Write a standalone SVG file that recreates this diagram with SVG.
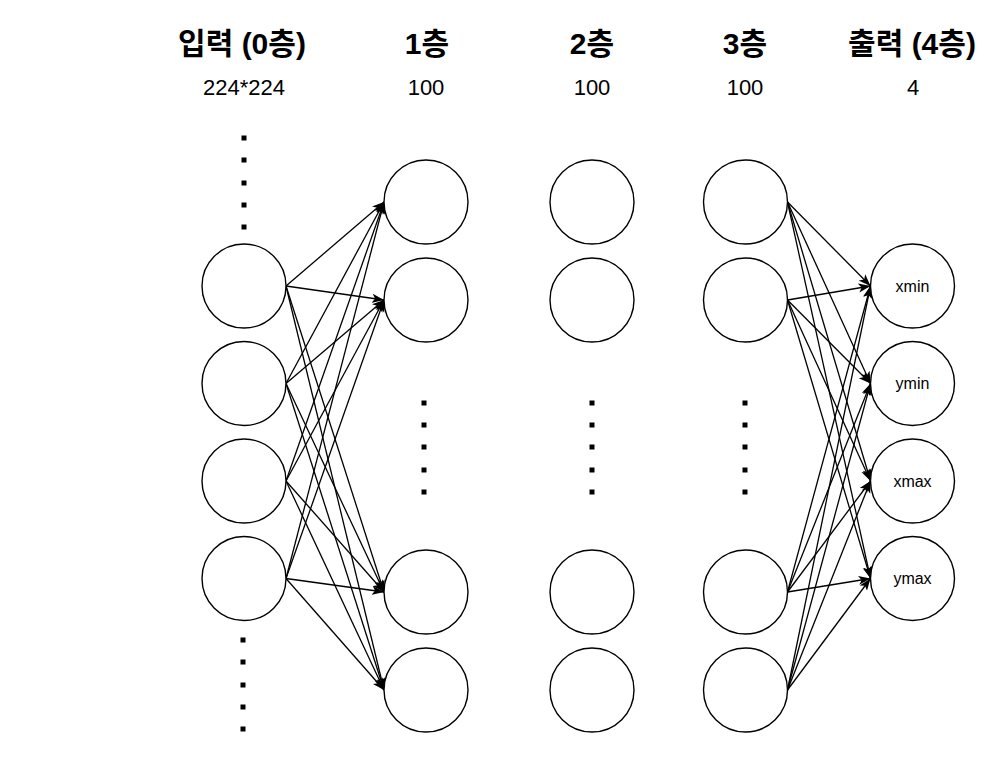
<svg xmlns="http://www.w3.org/2000/svg" width="987" height="767" viewBox="0 0 987 767">
<style>
.node{fill:#fff;stroke:#000;stroke-width:1.4}
.edge{fill:none;stroke:#000;stroke-width:1.3}
.hd{font-family:"Liberation Sans","Noto Sans CJK KR",sans-serif;font-weight:bold;font-size:30px;text-anchor:middle;fill:#000}
.sub{font-family:"Liberation Sans",sans-serif;font-size:22px;text-anchor:middle;fill:#000}
.lbl{font-family:"Liberation Sans",sans-serif;font-size:16px;text-anchor:middle;fill:#000}
.dot{fill:#000}
</style>
<defs>
<marker id="arr" markerUnits="userSpaceOnUse" markerWidth="12" markerHeight="10" refX="12" refY="5" orient="auto">
<path d="M0,0.5 L12,5 L0,9.5 L3,5 Z" fill="#000"/>
</marker>
<rect id="d" x="-2.5" y="-2.5" width="5" height="5"/>
</defs>
<rect width="987" height="767" fill="#fff"/>
<g id="headers">
<text class="hd" x="242" y="54">입력 (0층)</text>
<text class="hd" x="427" y="54">1층</text>
<text class="hd" x="592" y="54">2층</text>
<text class="hd" x="745" y="54">3층</text>
<text class="hd" x="912" y="54">출력 (4층)</text>
<text class="sub" x="244" y="95">224*224</text>
<text class="sub" x="426" y="95">100</text>
<text class="sub" x="592" y="95">100</text>
<text class="sub" x="745" y="95">100</text>
<text class="sub" x="913" y="95">4</text>
</g>
<g id="dots" class="dot">
<use href="#d" x="244" y="138"/><use href="#d" x="244" y="160"/><use href="#d" x="244" y="183"/><use href="#d" x="244" y="205"/><use href="#d" x="244" y="227"/>
<use href="#d" x="243" y="640"/><use href="#d" x="243" y="662"/><use href="#d" x="243" y="685"/><use href="#d" x="243" y="707"/><use href="#d" x="243" y="729"/>
<use href="#d" x="424" y="403"/><use href="#d" x="424" y="425"/><use href="#d" x="424" y="447"/><use href="#d" x="424" y="470"/><use href="#d" x="424" y="492"/>
<use href="#d" x="592" y="403"/><use href="#d" x="592" y="425"/><use href="#d" x="592" y="447"/><use href="#d" x="592" y="470"/><use href="#d" x="592" y="492"/>
<use href="#d" x="745" y="403"/><use href="#d" x="745" y="425"/><use href="#d" x="745" y="447"/><use href="#d" x="745" y="470"/><use href="#d" x="745" y="492"/>
</g>
<g id="connectors" class="edge" marker-end="url(#arr)">
<line x1="286" y1="286" x2="384" y2="202"/><line x1="286" y1="286" x2="384" y2="300"/><line x1="286" y1="286" x2="384" y2="592"/><line x1="286" y1="286" x2="384" y2="690"/>
<line x1="286" y1="383.5" x2="384" y2="202"/><line x1="286" y1="383.5" x2="384" y2="300"/><line x1="286" y1="383.5" x2="384" y2="592"/><line x1="286" y1="383.5" x2="384" y2="690"/>
<line x1="286" y1="481" x2="384" y2="202"/><line x1="286" y1="481" x2="384" y2="300"/><line x1="286" y1="481" x2="384" y2="592"/><line x1="286" y1="481" x2="384" y2="690"/>
<line x1="286" y1="578.5" x2="384" y2="202"/><line x1="286" y1="578.5" x2="384" y2="300"/><line x1="286" y1="578.5" x2="384" y2="592"/><line x1="286" y1="578.5" x2="384" y2="690"/>
<line x1="787.5" y1="202" x2="870.5" y2="286"/><line x1="787.5" y1="202" x2="870.5" y2="383.5"/><line x1="787.5" y1="202" x2="870.5" y2="481"/><line x1="787.5" y1="202" x2="870.5" y2="578.5"/>
<line x1="787.5" y1="300" x2="870.5" y2="286"/><line x1="787.5" y1="300" x2="870.5" y2="383.5"/><line x1="787.5" y1="300" x2="870.5" y2="481"/><line x1="787.5" y1="300" x2="870.5" y2="578.5"/>
<line x1="787.5" y1="592" x2="870.5" y2="286"/><line x1="787.5" y1="592" x2="870.5" y2="383.5"/><line x1="787.5" y1="592" x2="870.5" y2="481"/><line x1="787.5" y1="592" x2="870.5" y2="578.5"/>
<line x1="787.5" y1="690" x2="870.5" y2="286"/><line x1="787.5" y1="690" x2="870.5" y2="383.5"/><line x1="787.5" y1="690" x2="870.5" y2="481"/><line x1="787.5" y1="690" x2="870.5" y2="578.5"/>
</g>
<g id="input-1"><circle class="node" cx="244" cy="286" r="42"/></g>
<g id="input-2"><circle class="node" cx="244" cy="383.5" r="42"/></g>
<g id="input-3"><circle class="node" cx="244" cy="481" r="42"/></g>
<g id="input-4"><circle class="node" cx="244" cy="578.5" r="42"/></g>
<g id="h1-1"><circle class="node" cx="426" cy="202" r="42"/></g>
<g id="h1-2"><circle class="node" cx="426" cy="300" r="42"/></g>
<g id="h1-3"><circle class="node" cx="426" cy="592" r="42"/></g>
<g id="h1-4"><circle class="node" cx="426" cy="690" r="42"/></g>
<g id="h2-1"><circle class="node" cx="592" cy="202" r="42"/></g>
<g id="h2-2"><circle class="node" cx="592" cy="300" r="42"/></g>
<g id="h2-3"><circle class="node" cx="592" cy="592" r="42"/></g>
<g id="h2-4"><circle class="node" cx="592" cy="690" r="42"/></g>
<g id="h3-1"><circle class="node" cx="745.5" cy="202" r="42"/></g>
<g id="h3-2"><circle class="node" cx="745.5" cy="300" r="42"/></g>
<g id="h3-3"><circle class="node" cx="745.5" cy="592" r="42"/></g>
<g id="h3-4"><circle class="node" cx="745.5" cy="690" r="42"/></g>
<g id="out-xmin"><circle class="node" cx="912.5" cy="286" r="42"/><text class="lbl" x="912.5" y="291.5">xmin</text></g>
<g id="out-ymin"><circle class="node" cx="912.5" cy="383.5" r="42"/><text class="lbl" x="912.5" y="389">ymin</text></g>
<g id="out-xmax"><circle class="node" cx="912.5" cy="481" r="42"/><text class="lbl" x="912.5" y="486.5">xmax</text></g>
<g id="out-ymax"><circle class="node" cx="912.5" cy="578.5" r="42"/><text class="lbl" x="912.5" y="584">ymax</text></g>
</svg>
